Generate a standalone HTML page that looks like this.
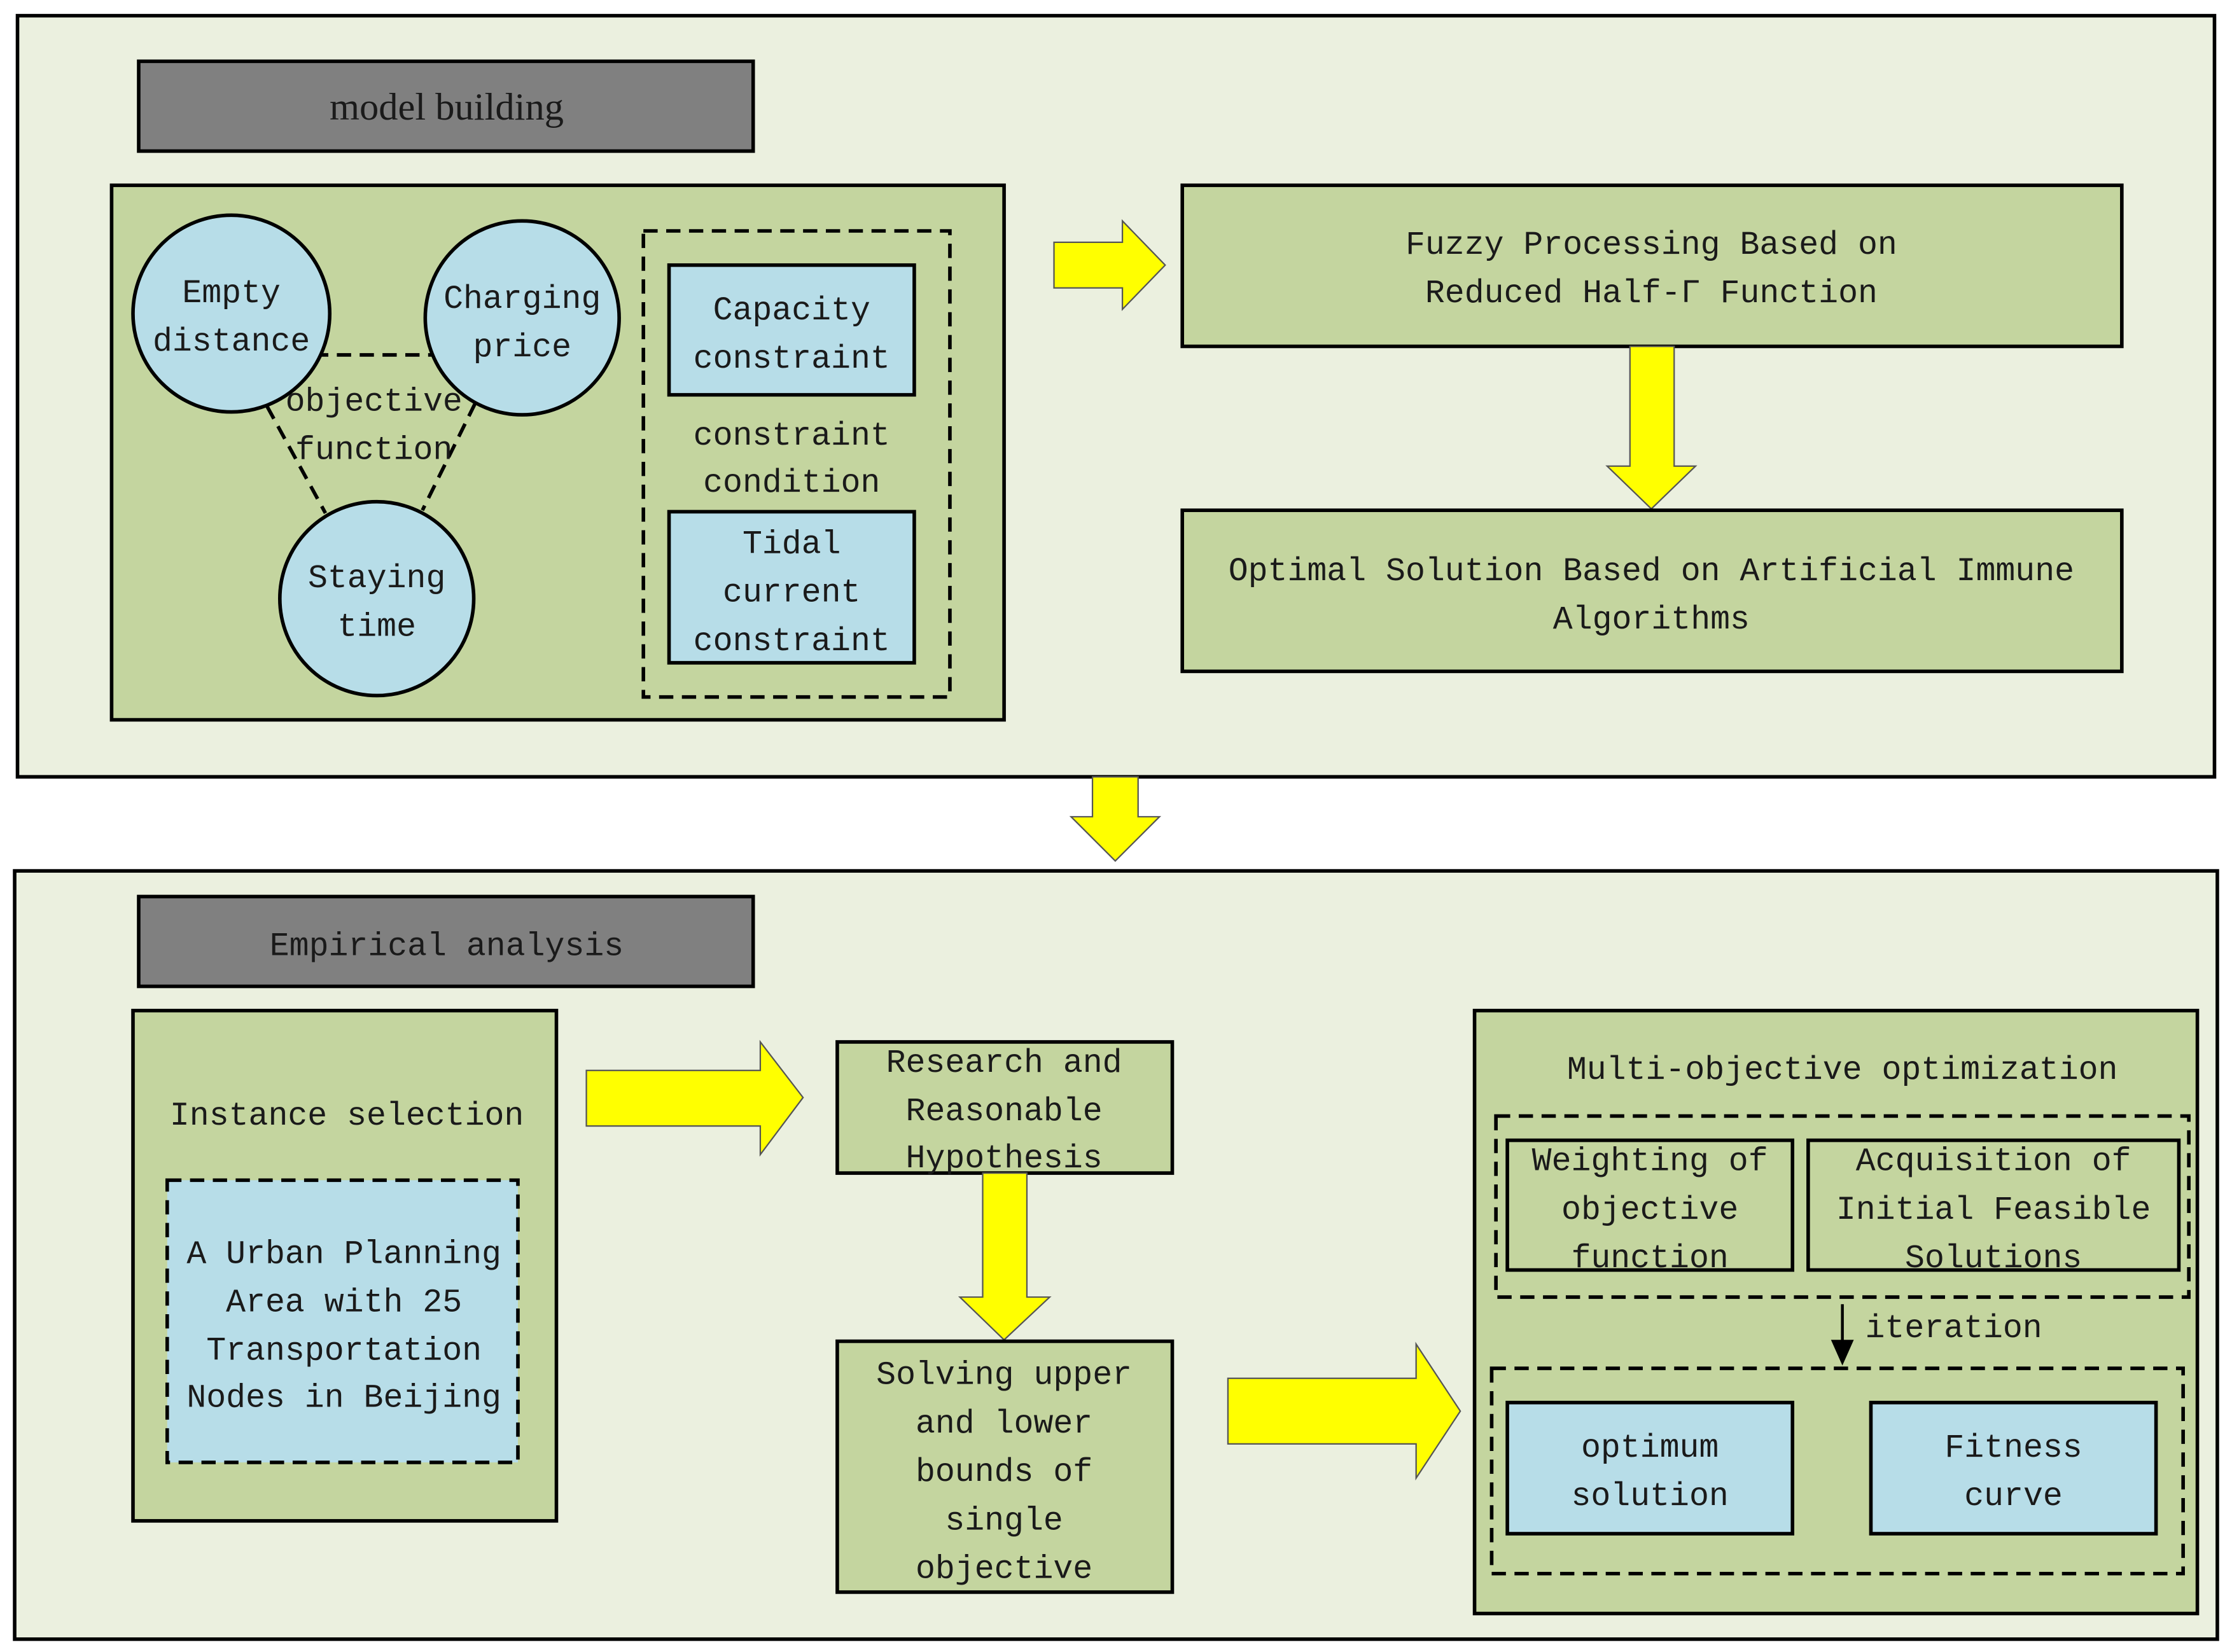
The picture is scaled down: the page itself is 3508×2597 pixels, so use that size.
<!DOCTYPE html>
<html><head><meta charset="utf-8"><style>
html,body{margin:0;padding:0;background:#fff}
svg{display:block}
text{font-family:"Liberation Mono",monospace;font-size:23px;fill:#1a1a1a;text-anchor:middle}
</style></head><body>
<svg width="3508" height="2597" viewBox="0 0 1565 1159" xmlns="http://www.w3.org/2000/svg">
<defs>
<style>.b{stroke:#000;stroke-width:2.5}.d{stroke:#000;stroke-width:2.5;stroke-dasharray:10 6;fill:none}.y{fill:#ffff00;stroke:#555;stroke-width:1}</style>
</defs>
<rect x="12" y="11" width="1541" height="534" fill="#ebf0df" class="b"/>
<rect x="10" y="611" width="1545" height="539" fill="#ebf0df" class="b"/>

<rect x="97" y="43" width="431" height="63" fill="#808080" class="b"/>
<text x="313" y="84" style="font-family:'Liberation Serif',serif;font-size:27px">model building</text>

<rect x="78" y="130" width="626" height="375" fill="#c4d59f" class="b"/>
<line x1="220" y1="249" x2="306" y2="249" class="d"/>
<line x1="187" y1="285" x2="228" y2="360" class="d"/>
<line x1="333" y1="283" x2="296" y2="358" class="d"/>
<circle cx="162" cy="220" r="69" fill="#b7dde8" class="b"/>
<circle cx="366" cy="223" r="68" fill="#b7dde8" class="b"/>
<circle cx="264" cy="420" r="68" fill="#b7dde8" class="b"/>
<text x="162" y="212">Empty</text><text x="162" y="246">distance</text>
<text x="366" y="216">Charging</text><text x="366" y="250">price</text>
<text x="264" y="412">Staying</text><text x="264" y="446">time</text>
<text x="262" y="288">objective</text><text x="262" y="322">function</text>
<rect x="451" y="162" width="215" height="327" class="d"/>
<rect x="469" y="186" width="172" height="91" fill="#b7dde8" class="b"/>
<text x="555" y="224">Capacity</text><text x="555" y="258">constraint</text>
<text x="555" y="312">constraint</text><text x="555" y="345">condition</text>
<rect x="469" y="359" width="172" height="106" fill="#b7dde8" class="b"/>
<text x="555" y="388">Tidal</text><text x="555" y="422">current</text><text x="555" y="456">constraint</text>

<polygon class="y" points="739,170 787,170 787,155 817,186 787,217 787,202 739,202"/>
<rect x="829" y="130" width="659" height="113" fill="#c4d59f" class="b"/>
<text x="1158" y="178">Fuzzy Processing Based on</text>
<text x="1158" y="212">Reduced Half-Γ Function</text>
<polygon class="y" points="1143,243 1174,243 1174,327 1189,327 1158,357 1127,327 1143,327"/>
<rect x="829" y="358" width="659" height="113" fill="#c4d59f" class="b"/>
<text x="1158" y="407">Optimal Solution Based on Artificial Immune</text>
<text x="1158" y="441">Algorithms</text>

<polygon class="y" points="766,545 798,545 798,573 813,573 782,604 751,573 766,573"/>

<rect x="97" y="629" width="431" height="63" fill="#808080" class="b"/>
<text x="313" y="670">Empirical analysis</text>

<rect x="93" y="709" width="297" height="358" fill="#c4d59f" class="b"/>
<text x="243" y="789">Instance selection</text>
<rect x="117" y="828" width="246" height="198" fill="#b7dde8" class="d" style="fill:#b7dde8"/>
<text x="241" y="886">A Urban Planning</text><text x="241" y="920">Area with 25</text>
<text x="241" y="954">Transportation</text><text x="241" y="987">Nodes in Beijing</text>

<polygon class="y" points="411,751 533,751 533,731 563,770 533,810 533,790 411,790"/>
<rect x="587" y="731" width="235" height="92" fill="#c4d59f" class="b"/>
<text x="704" y="752">Research and</text><text x="704" y="786">Reasonable</text><text x="704" y="819">Hypothesis</text>
<polygon class="y" points="689,823 720,823 720,910 736,910 704,940 673,910 689,910"/>
<rect x="587" y="941" width="235" height="176" fill="#c4d59f" class="b"/>
<text x="704" y="971">Solving upper</text><text x="704" y="1005">and lower</text><text x="704" y="1039">bounds of</text><text x="704" y="1073">single</text><text x="704" y="1107">objective</text>

<polygon class="y" points="861,967 993,967 993,943 1024,990 993,1037 993,1013 861,1013"/>

<rect x="1034" y="709" width="507" height="423" fill="#c4d59f" class="b"/>
<text x="1292" y="757">Multi-objective optimization</text>
<rect x="1049" y="783" width="486" height="127" class="d"/>
<rect x="1057" y="800" width="200" height="91" fill="#c4d59f" class="b"/>
<text x="1157" y="821">Weighting of</text><text x="1157" y="855">objective</text><text x="1157" y="889">function</text>
<rect x="1268" y="800" width="260" height="91" fill="#c4d59f" class="b"/>
<text x="1398" y="821">Acquisition of</text><text x="1398" y="855">Initial Feasible</text><text x="1398" y="889">Solutions</text>
<line x1="1292" y1="915" x2="1292" y2="945" stroke="#000" stroke-width="2"/>
<polygon points="1284,940 1300,940 1292,958" fill="#000"/>
<text x="1308" y="938" style="text-anchor:start">iteration</text>
<rect x="1046" y="960" width="485" height="144" class="d"/>
<rect x="1057" y="984" width="200" height="92" fill="#b7dde8" class="b"/>
<text x="1157" y="1022">optimum</text><text x="1157" y="1056">solution</text>
<rect x="1312" y="984" width="200" height="92" fill="#b7dde8" class="b"/>
<text x="1412" y="1022">Fitness</text><text x="1412" y="1056">curve</text>
</svg>
</body></html>
